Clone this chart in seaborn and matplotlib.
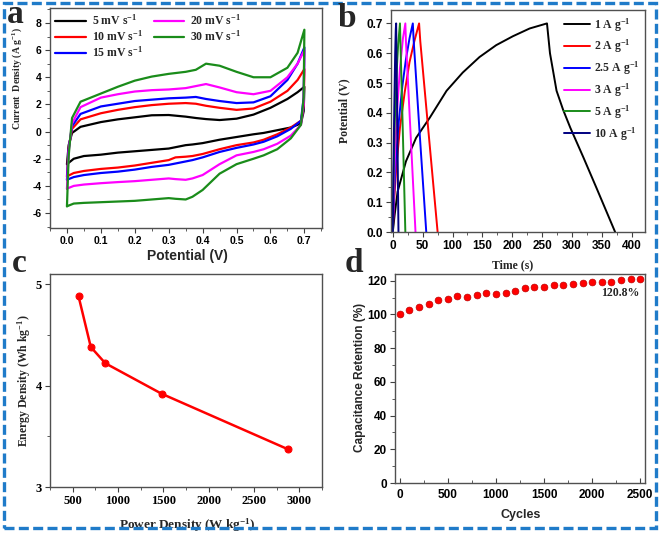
import matplotlib
matplotlib.use('Agg')
import matplotlib.pyplot as plt
import seaborn as sns
from matplotlib.ticker import AutoMinorLocator
from matplotlib.patches import Rectangle

# ---- panel a: CV loops (potential grid shared by all scan rates) ----
v_up = [0.0, 0.005, 0.015, 0.04, 0.1, 0.15, 0.2, 0.25, 0.3, 0.35, 0.38, 0.41,
        0.45, 0.5, 0.55, 0.6, 0.65, 0.68, 0.7]
v_down = [0.7, 0.698, 0.69, 0.66, 0.62, 0.58, 0.55, 0.5, 0.45, 0.4, 0.37, 0.35,
          0.32, 0.3, 0.25, 0.2, 0.15, 0.1, 0.05, 0.02, 0.0]

i5_up = [-2.4, -1.0, -0.1, 0.35, 0.7, 0.9, 1.05, 1.2, 1.22, 1.1, 1.0, 0.92, 0.85, 0.95, 1.25, 1.75, 2.4, 2.9, 3.3]
i5_down = [3.3, 1.5, 0.6, 0.3, 0.1, -0.1, -0.2, -0.4, -0.6, -0.85, -0.95, -1.0, -1.15, -1.25, -1.35, -1.45, -1.55, -1.7, -1.8, -2.0, -2.4]
i10_up = [-3.3, -1.2, 0.2, 0.9, 1.35, 1.6, 1.8, 1.95, 2.05, 2.1, 2.05, 1.9, 1.75, 1.6, 1.7, 2.2, 3.0, 3.8, 4.6]
i10_down = [4.6, 2.0, 0.8, 0.3, -0.2, -0.6, -0.8, -1.0, -1.3, -1.65, -1.8, -1.85, -1.9, -2.1, -2.3, -2.5, -2.65, -2.75, -2.9, -3.05, -3.3]
i15_up = [-3.55, -1.3, 0.4, 1.3, 1.85, 2.05, 2.25, 2.35, 2.45, 2.5, 2.55, 2.4, 2.25, 2.1, 2.15, 2.6, 3.8, 5.0, 6.2]
i15_down = [6.2, 2.5, 0.8, 0.2, -0.35, -0.75, -0.95, -1.2, -1.5, -1.9, -2.1, -2.2, -2.35, -2.45, -2.6, -2.8, -2.95, -3.05, -3.2, -3.35, -3.55]
i20_up = [-4.2, -1.5, 0.6, 1.8, 2.5, 2.75, 2.95, 3.05, 3.1, 3.2, 3.35, 3.5, 3.25, 2.9, 2.75, 3.0, 4.0, 5.0, 6.0]
i20_down = [6.0, 2.0, 0.5, -0.3, -0.9, -1.3, -1.5, -1.75, -2.4, -3.2, -3.45, -3.55, -3.5, -3.45, -3.55, -3.65, -3.72, -3.8, -3.9, -4.0, -4.2]
i30_up = [-5.5, -1.8, 1.0, 2.2, 2.8, 3.3, 3.75, 4.05, 4.25, 4.4, 4.55, 5.0, 4.85, 4.4, 4.0, 4.0, 4.7, 5.8, 7.5]
i30_down = [7.5, 2.5, 0.5, -0.5, -1.3, -1.75, -2.0, -2.4, -3.1, -4.3, -4.8, -5.0, -4.95, -4.9, -5.0, -5.1, -5.15, -5.2, -5.25, -5.3, -5.5]

cv_labels = [r'5 mV s$^{-1}$', r'10 mV s$^{-1}$', r'15 mV s$^{-1}$', r'20 mV s$^{-1}$', r'30 mV s$^{-1}$']
cv_colors = ['black', '#ff0000', '#0000ff', '#ff00ff', '#1a8c1a']

# ---- panel b: GCD curves ----
t_1 = [0, 3, 8, 22, 39, 62, 90, 117, 145, 173, 201, 229, 258, 263, 274, 285, 297, 319, 341, 372]
u_1 = [0, 0.056, 0.135, 0.237, 0.316, 0.384, 0.474, 0.535, 0.587, 0.627, 0.657, 0.683, 0.7, 0.6, 0.474, 0.41, 0.35, 0.25, 0.147, 0.0]
t_2 = [0, 2, 6, 12, 20, 28, 36, 44, 46, 60, 75]
u_2 = [0, 0.1, 0.22, 0.35, 0.47, 0.57, 0.64, 0.7, 0.64, 0.33, 0]
t_25 = [0, 2, 5, 10, 16, 22, 28, 33.5, 35, 45, 56]
u_25 = [0, 0.12, 0.24, 0.37, 0.49, 0.58, 0.65, 0.7, 0.64, 0.33, 0]
t_3 = [0, 1.5, 4, 8, 12, 17, 21, 22, 30, 38]
u_3 = [0, 0.13, 0.28, 0.43, 0.55, 0.65, 0.7, 0.64, 0.32, 0]
t_5 = [0, 1, 3, 6, 9, 12, 13, 17, 21]
u_5 = [0, 0.15, 0.35, 0.52, 0.63, 0.7, 0.62, 0.32, 0]
t_10 = [0, 1, 2.5, 4, 5, 5.6, 8, 9.5]
u_10 = [0, 0.2, 0.42, 0.6, 0.68, 0.7, 0.28, 0]

gcd_labels = [r'1 A g$^{-1}$', r'2 A g$^{-1}$', r'2.5 A g$^{-1}$', r'3 A g$^{-1}$', r'5 A g$^{-1}$', r'10 A g$^{-1}$']
gcd_colors = ['black', '#ff0000', '#0000ff', '#ff00ff', '#1a8c1a', '#000080']

# ---- panel c: Ragone ----
power = [565, 700, 860, 1480, 2880]
energy = [4.88, 4.38, 4.22, 3.92, 3.37]

# ---- panel d: cycling ----
cycles = list(range(0, 2501, 100))
retention = [100, 102.4, 104.4, 106, 108.8, 109, 110.8, 110.6, 111.6, 113, 112, 112.6, 113.8,
             115.8, 116.2, 116.2, 117.4, 117.6, 117.8, 118.6, 119.2, 119, 119.4, 120.2, 120.8, 120.8]

SERIF = 'Liberation Serif'
SANS = 'Liberation Sans'

sns.set_style('ticks')
plt.rcParams.update({
    'font.family': [SERIF, 'DejaVu Serif'],
    'font.weight': 'bold',
    'mathtext.fontset': 'custom',
    'mathtext.rm': 'Liberation Serif:bold',
    'mathtext.bf': 'Liberation Serif:bold',
    'mathtext.it': 'Liberation Serif:italic:bold',
    'axes.edgecolor': '#505050',
    'axes.linewidth': 1.0,
    'xtick.direction': 'out',
    'ytick.direction': 'out',
    'xtick.major.size': 3.5,
    'ytick.major.size': 3.5,
    'xtick.minor.size': 2,
    'ytick.minor.size': 2,
    'xtick.major.pad': 2.5,
    'ytick.major.pad': 2.5,
    'xtick.color': '#404040',
    'ytick.color': '#404040',
    'xtick.labelcolor': 'black',
    'ytick.labelcolor': 'black',
})

W, H = 661, 538
fig = plt.figure(figsize=(W / 100, H / 100), dpi=100)


def box(l, r, t, b):
    return [l / W, 1 - b / H, (r - l) / W, (b - t) / H]


def ticks(ax, xt, xl, yt, yl, family, size):
    ax.set_xticks(xt)
    ax.set_xticklabels(xl, fontfamily=family, fontweight='bold', fontsize=size)
    ax.set_yticks(yt)
    ax.set_yticklabels(yl, fontfamily=family, fontweight='bold', fontsize=size)
    ax.xaxis.set_minor_locator(AutoMinorLocator(2))
    ax.yaxis.set_minor_locator(AutoMinorLocator(2))


def labels(ax, xlab, ylab, family, xs, ys, xpos, ypos):
    ax.set_xlabel(xlab, fontfamily=family, fontweight='bold', fontsize=xs, va='center')
    ax.set_ylabel(ylab, fontfamily=family, fontweight='bold', fontsize=ys, va='center')
    ax.xaxis.set_label_coords(*xpos)
    ax.yaxis.set_label_coords(*ypos)


# a
ax_a = fig.add_axes(box(50, 322, 8, 228))
curves = [(i5_up, i5_down), (i10_up, i10_down), (i15_up, i15_down), (i20_up, i20_down), (i30_up, i30_down)]
for (iu, idn), lab, col in zip(curves, cv_labels, cv_colors):
    sns.lineplot(x=v_up + v_down, y=iu + idn, sort=False, estimator=None,
                 color=col, lw=1.6, label=lab, ax=ax_a)
ax_a.set_xlim(-0.05, 0.752)
ax_a.set_ylim(-7.1, 9.1)
ticks(ax_a, [0, 0.1, 0.2, 0.3, 0.4, 0.5, 0.6, 0.7],
      ['0.0', '0.1', '0.2', '0.3', '0.4', '0.5', '0.6', '0.7'],
      [-6, -4, -2, 0, 2, 4, 6, 8], ['-6', '-4', '-2', '0', '2', '4', '6', '8'], SANS, 7.5)
labels(ax_a, 'Potential (V)', r'Current  Density (A g$^{-1}$)', SANS, 10, 7,
       (0.504, -0.127), (-0.12, 0.68))
ax_a.yaxis.label.set_fontfamily(SERIF)
ax_a.legend(ncol=2, loc='upper left', frameon=False,
            prop={'family': SERIF, 'weight': 'bold', 'size': 8.5},
            handlelength=2.6, columnspacing=0.9, labelspacing=0.12,
            borderaxespad=0.05, handletextpad=0.5)

# b
ax_b = fig.add_axes(box(391, 645, 10, 232))
series_b = [(t_1, u_1), (t_2, u_2), (t_25, u_25), (t_3, u_3), (t_5, u_5), (t_10, u_10)]
for (tt, uu), lab, col in zip(series_b, gcd_labels, gcd_colors):
    sns.lineplot(x=tt, y=uu, sort=False, estimator=None, color=col, lw=1.4,
                 label=lab, ax=ax_b)
ax_b.set_xlim(-3, 422)
ax_b.set_ylim(0, 0.745)
ticks(ax_b, [0, 50, 100, 150, 200, 250, 300, 350, 400],
      ['0', '50', '100', '150', '200', '250', '300', '350', '400'],
      [0, 0.1, 0.2, 0.3, 0.4, 0.5, 0.6, 0.7],
      ['0.0', '0.1', '0.2', '0.3', '0.4', '0.5', '0.6', '0.7'], SANS, 8.5)
labels(ax_b, 'Time (s)', 'Potential (V)', SERIF, 8.5, 8.5, (0.48, -0.149), (-0.185, 0.545))
ax_b.legend(loc='upper right', frameon=False,
            prop={'family': SERIF, 'weight': 'bold', 'size': 8.5},
            handlelength=2.2, labelspacing=0.36, borderaxespad=0.1, handletextpad=0.3)

# c
ax_c = fig.add_axes(box(50, 322, 274, 487))
sns.lineplot(x=power, y=energy, color='#ff0000', lw=1.8, marker='o', markersize=5,
             markeredgecolor='#ff0000', ax=ax_c)
ax_c.set_xlim(250, 3250)
ax_c.set_ylim(3, 5.1)
ticks(ax_c, [500, 1000, 1500, 2000, 2500, 3000],
      ['500', '1000', '1500', '2000', '2500', '3000'], [3, 4, 5], ['3', '4', '5'], SERIF, 9)
labels(ax_c, r'Power Density (W kg$^{-1}$)', r'Energy Density (Wh kg$^{-1}$)', SERIF, 9.5, 8.5,
       (0.505, -0.178), (-0.095, 0.5))

# d
ax_d = fig.add_axes(box(395, 645, 274, 483))
sns.scatterplot(x=cycles, y=retention, color='#ff0000', s=24, edgecolor='#c00000',
                linewidth=0.5, ax=ax_d, zorder=3)
ax_d.set_xlim(-50, 2550)
ax_d.set_ylim(0, 124)
ticks(ax_d, [0, 500, 1000, 1500, 2000, 2500], ['0', '500', '1000', '1500', '2000', '2500'],
      [0, 20, 40, 60, 80, 100, 120], ['0', '20', '40', '60', '80', '100', '120'], SANS, 8.5)
ax_d.tick_params(axis='x', which='both', direction='in')
ax_d.tick_params(axis='x', which='major', pad=4)
labels(ax_d, 'Cycles', 'Capacitance Retention (%)', SANS, 9, 8.5, (0.504, -0.153), (-0.14, 0.507))
ax_d.text(2290, 113, '120.8%', fontfamily=SERIF, fontweight='bold', fontsize=8.5,
          ha='center', va='center')

for ax in (ax_a, ax_b, ax_c, ax_d):
    ax.tick_params(top=False, right=False)

# panel letters
for ch, x, y in [('a', 15.5, 23), ('b', 346.5, 27), ('c', 19, 272), ('d', 353.5, 272)]:
    fig.text(x / W, 1 - y / H, ch, fontfamily=SERIF, fontweight='bold', fontsize=24,
             ha='center', va='baseline')

# dashed outer frame
fig.add_artist(Rectangle((4 / W, 1 - 528 / H), 652 / W, 525 / H, transform=fig.transFigure,
                         fill=False, ls=(0, (3, 1.3)), lw=2.4, edgecolor='#1f7bc9'))

fig.savefig('out.png', dpi=100)
